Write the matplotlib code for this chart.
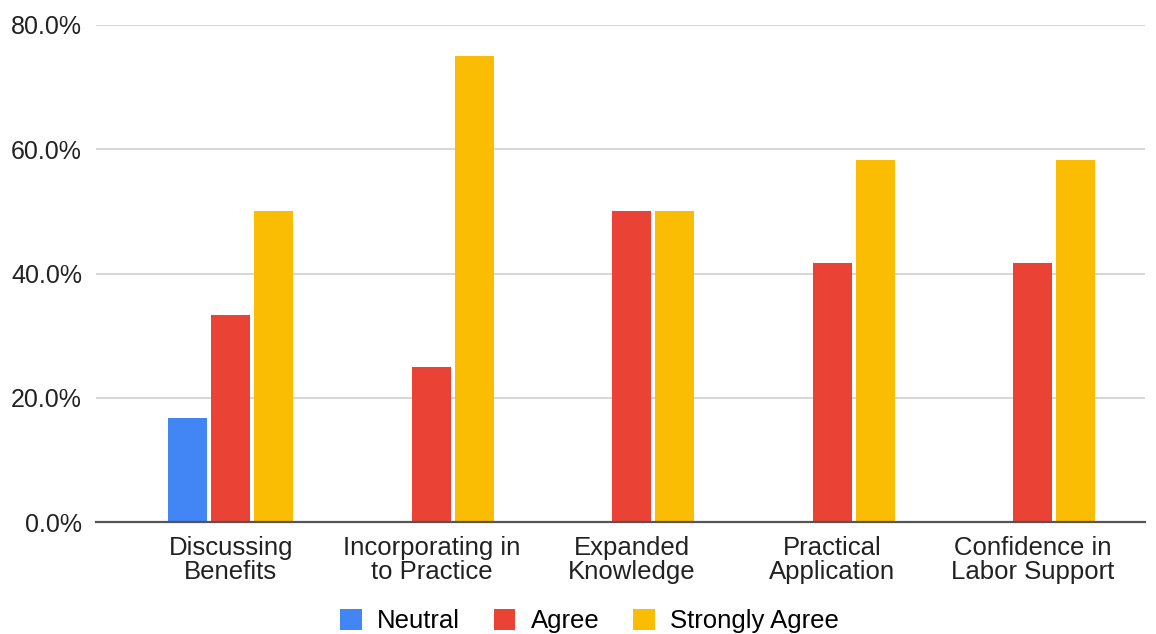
import numpy as np
import matplotlib.pyplot as plt
from matplotlib.ticker import PercentFormatter
from matplotlib.patches import Patch

plt.rcParams['font.family'] = ['Liberation Sans', 'DejaVu Sans']

categories = ["Discussing\nBenefits", "Incorporating in\nto Practice", "Expanded\nKnowledge",
              "Practical\nApplication", "Confidence in\nLabor Support"]
neutral = [16.7, 0, 0, 0, 0]
agree = [33.3, 25.0, 50.0, 41.7, 41.7]
strongly_agree = [50.0, 75.0, 50.0, 58.3, 58.3]

series = [("Neutral", neutral, "#4285F4"),
          ("Agree", agree, "#EA4335"),
          ("Strongly Agree", strongly_agree, "#FBBC04")]

fig = plt.figure(figsize=(11.56, 6.34), dpi=100)
ax = fig.add_axes([96 / 1156, 1 - 522 / 634, (1145 - 96) / 1156, (522 - 25) / 634])

x = np.arange(len(categories))
step = 0.2145
width = 0.195
for i, (name, vals, col) in enumerate(series):
    v = np.array(vals) / 100
    ax.bar(x + (i - 1) * step, v, width, color=col, zorder=2, linewidth=0)

ax.set_xlim(-0.673, 4.559)
ax.set_ylim(0, 0.8)
ax.set_yticks([0, 0.2, 0.4, 0.6, 0.8])
ax.yaxis.set_major_formatter(PercentFormatter(1.0, decimals=1))
ax.set_xticks(x)
ax.set_xticklabels(categories, fontsize=18.5, color="#222222", linespacing=1.0)
ax.tick_params(axis='y', labelsize=18, labelcolor="#222222", length=0, pad=10)
ax.tick_params(axis='x', length=0, pad=10)
ax.grid(axis='y', color="#d0d0d0", linewidth=1.2, zorder=0)
for s in ["top", "right", "left"]:
    ax.spines[s].set_visible(False)
ax.spines["bottom"].set_color("#555555")
ax.spines["bottom"].set_linewidth(1.6)
ax.spines["bottom"].set_zorder(3)

handles = [Patch(facecolor=c, label=n) for n, _, c in series]
fig.legend(handles=handles, loc="center", bbox_to_anchor=(0.51, 0.02), ncol=3,
           frameon=False, fontsize=18.5, handlelength=0.85, handleheight=0.85,
           columnspacing=1.3, handletextpad=0.6)

fig.savefig("out.png", dpi=100)
